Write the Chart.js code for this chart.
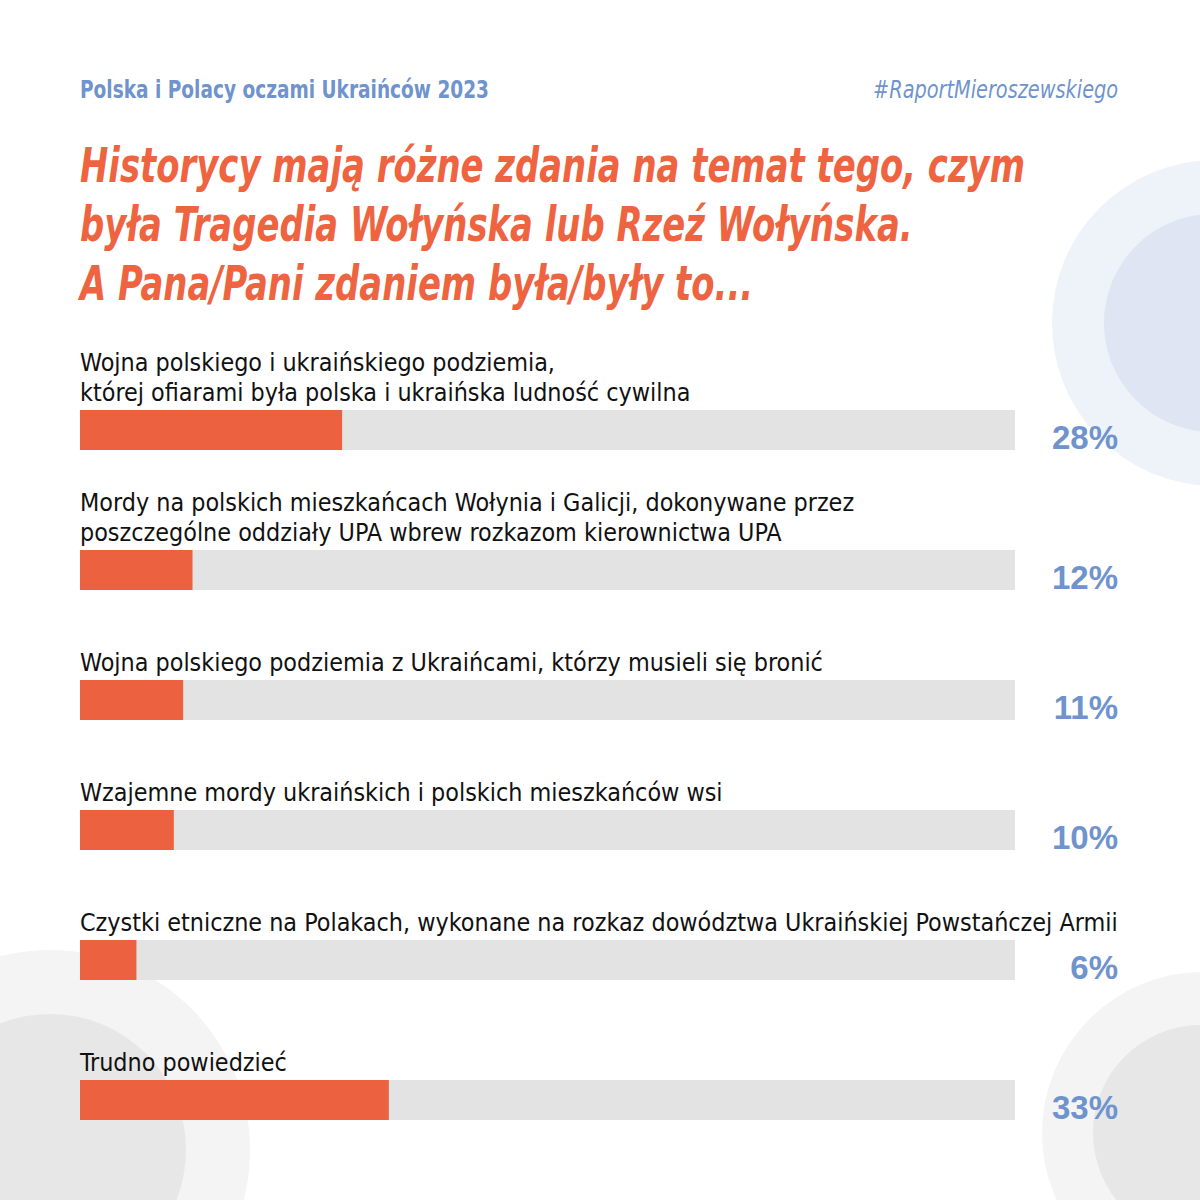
<!DOCTYPE html>
<html lang="pl">
<head>
<meta charset="utf-8">
<script src="https://cdn.jsdelivr.net/npm/chart.js@4/dist/chart.umd.min.js"></script>
<style>
  html, body { margin: 0; padding: 0; }
  body { width: 1200px; height: 1200px; position: relative; overflow: hidden; background: #fff;
         font-family: "DejaVu Sans Condensed", sans-serif; }
  .circle { position: absolute; border-radius: 50%; }
  .head { position: absolute; top: 76px; font-size: 24px; font-weight: bold; color: #6f93cd; white-space: nowrap; }
  .title { position: absolute; left: 80px; top: 136px; font-size: 48px; line-height: 59px;
           font-weight: bold; font-style: italic; color: #ee6441; white-space: nowrap; transform-origin: 0 0; }
  .title span { display: inline-block; }
  .row { position: absolute; left: 80px; width: 1040px; height: 40px; }
  .lbl { position: absolute; left: 0; bottom: 42px; font-size: 25px; line-height: 30px; color: #111;
         white-space: nowrap; transform-origin: 0 100%; }
  .bar { position: absolute; left: 0; top: 0; width: 935px; height: 40px; }
  .pct { position: absolute; right: 2px; bottom: -7px; font-family: "Liberation Sans", Arial, sans-serif;
         font-weight: bold; font-size: 33px; color: #6f93cd; }
</style>
</head>
<body>
<div class="circle" style="left:1052px;top:160px;width:326px;height:326px;background:#eef2f9"></div>
<div class="circle" style="left:1104px;top:214px;width:218px;height:218px;background:#dfe5f2"></div>
<div class="circle" style="left:-150px;top:950px;width:400px;height:400px;background:#f4f4f4"></div>
<div class="circle" style="left:-86px;top:1014px;width:272px;height:272px;background:#e7e7e7"></div>
<div class="circle" style="left:1042px;top:972px;width:322px;height:322px;background:#f4f4f4"></div>
<div class="circle" style="left:1093px;top:1025px;width:216px;height:216px;background:#e7e7e7"></div>

<div class="head" id="head1" style="left:80px;transform-origin:0 0">Polska i Polacy oczami Ukraińców 2023</div>
<div class="head" id="head2" style="right:82px;font-style:italic;font-weight:normal;transform-origin:100% 0">#RaportMieroszewskiego</div>
<div class="title" id="title"><span id="t1">Historycy mają różne zdania na temat tego, czym</span><br>była Tragedia Wołyńska lub Rzeź Wołyńska.<br>A Pana/Pani zdaniem była/były to...</div>

<div id="rows"></div>

<script>
// odpowiedzi (kategorie) i wartości w %
const categories = [
  'Wojna polskiego i ukraińskiego podziemia,\nktórej ofiarami była polska i ukraińska ludność cywilna',
  'Mordy na polskich mieszkańcach Wołynia i Galicji, dokonywane przez\nposzczególne oddziały UPA wbrew rozkazom kierownictwa UPA',
  'Wojna polskiego podziemia z Ukraińcami, którzy musieli się bronić',
  'Wzajemne mordy ukraińskich i polskich mieszkańców wsi',
  'Czystki etniczne na Polakach, wykonane na rozkaz dowództwa Ukraińskiej Powstańczej Armii',
  'Trudno powiedzieć'
];
const values = [28, 12, 11, 10, 6, 33];

// układ: górna krawędź paska w każdym wierszu
const rowTops = [410, 550, 680, 810, 940, 1080];

// dopasowanie szerokości tekstu (węższy krój jak w oryginale)
const squeeze = (el, w, ref) => {
  const cur = (ref || el).getBoundingClientRect().width;
  el.style.transform = 'scaleX(' + (w / cur) + ')';
};
squeeze(document.getElementById('title'), 945, document.getElementById('t1'));
squeeze(document.getElementById('head1'), 409);
squeeze(document.getElementById('head2'), 245);

const rows = document.getElementById('rows');
categories.forEach((cat, i) => {
  const row = document.createElement('div');
  row.className = 'row';
  row.style.top = rowTops[i] + 'px';

  const lbl = document.createElement('div');
  lbl.className = 'lbl';
  lbl.innerHTML = cat.split('\n').join('<br>');
  lbl.style.transform = 'scaleX(0.994)';
  row.appendChild(lbl);

  const box = document.createElement('div');
  box.className = 'bar';
  const cv = document.createElement('canvas');
  box.appendChild(cv);
  row.appendChild(box);

  const pct = document.createElement('div');
  pct.className = 'pct';
  pct.textContent = values[i] + '%';
  row.appendChild(pct);

  rows.appendChild(row);

  new Chart(cv.getContext('2d'), {
    type: 'bar',
    data: {
      labels: [cat],
      datasets: [
        { data: [values[i]], backgroundColor: '#ec6241', barPercentage: 1, categoryPercentage: 1 },
        { data: [100 - values[i]], backgroundColor: '#e3e3e3', barPercentage: 1, categoryPercentage: 1 }
      ]
    },
    options: {
      indexAxis: 'y',
      responsive: true,
      maintainAspectRatio: false,
      animation: false,
      layout: { padding: 0 },
      scales: {
        x: { stacked: true, min: 0, max: 100, display: false },
        y: { stacked: true, display: false }
      },
      plugins: { legend: { display: false }, tooltip: { enabled: false } }
    }
  });
});
</script>
</body>
</html>
